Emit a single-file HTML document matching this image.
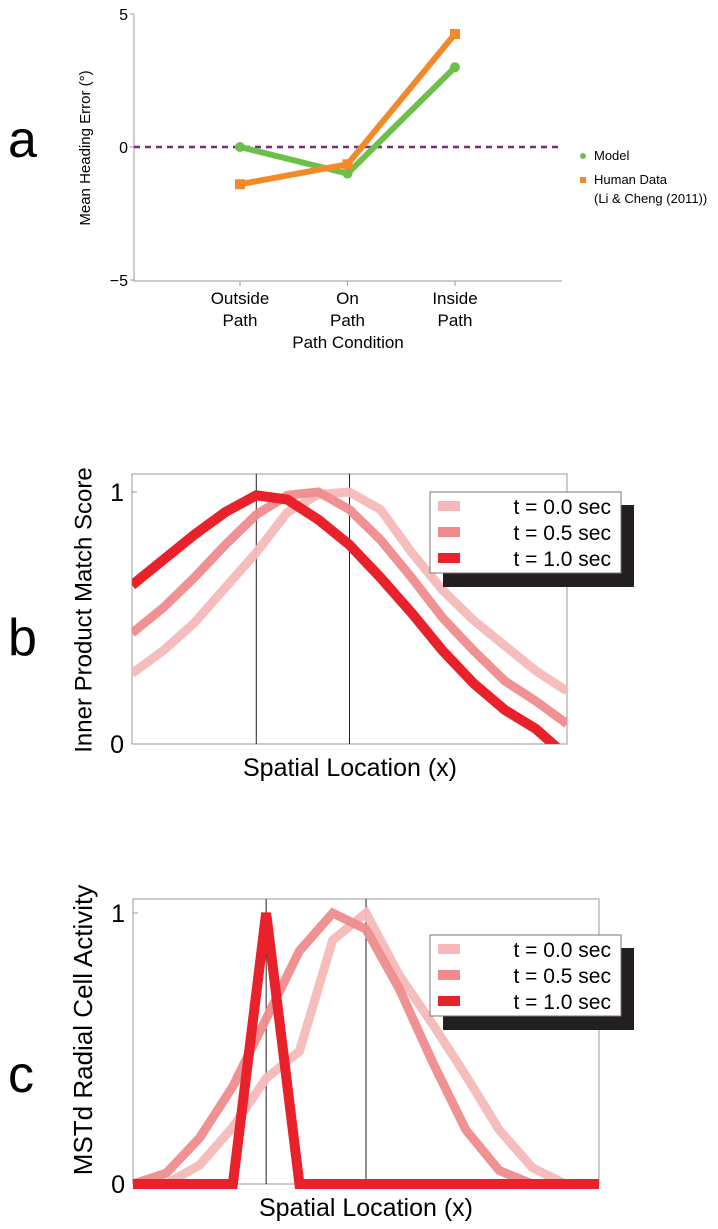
<!DOCTYPE html>
<html><head><meta charset="utf-8"><style>
html,body{margin:0;padding:0;background:#fff;}
svg{display:block;font-family:"Liberation Sans",sans-serif;}
</style></head><body>
<svg id="fig" width="718" height="1229" viewBox="0 0 718 1229">
<defs>
<clipPath id="clipB"><rect x="132" y="474" width="435" height="270"/></clipPath>
</defs>
<!-- Panel a -->
<g id="pa">
<text x="8" y="157" font-size="52">a</text>
<line x1="134" y1="15" x2="134" y2="281" stroke="#999" stroke-width="1"/>
<line x1="134" y1="281" x2="562" y2="281" stroke="#999" stroke-width="1"/>
<text x="90" y="148" font-size="15" text-anchor="middle" transform="rotate(-90 90 148)">Mean Heading Error (°)</text>
<text x="348" y="348" font-size="17" text-anchor="middle">Path Condition</text>
<circle cx="583" cy="156" r="3" fill="#6cc04a"/>
<text x="594" y="160" font-size="13">Model</text>
<rect x="580" y="177" width="6" height="6" fill="#f28a2a"/>
<text x="594" y="184" font-size="13">Human Data</text>
<text x="594" y="203" font-size="13">(Li &amp; Cheng (2011))</text>
</g>
<!-- Panel b -->
<g id="pb">
<text x="8" y="655" font-size="52">b</text>
<rect x="132" y="474" width="435" height="270" fill="none" stroke="#999" stroke-width="1"/>
<text x="85" y="610" font-size="24" text-anchor="middle" transform="rotate(-90 85 610)" dominant-baseline="middle">Inner Product Match Score</text>
<text x="350" y="776" font-size="25" text-anchor="middle">Spatial Location (x)</text>
</g>
<!-- Panel c -->
<g id="pc">
<text x="8" y="1092" font-size="52">c</text>
<rect x="133" y="899" width="466" height="285" fill="none" stroke="#999" stroke-width="1"/>
<text x="85" y="1030" font-size="26" text-anchor="middle" transform="rotate(-90 85 1030)" dominant-baseline="middle">MSTd Radial Cell Activity</text>
<text x="366" y="1216" font-size="25" text-anchor="middle">Spatial Location (x)</text>
</g>
</svg>
<script>
// ---- Panel a data ----
const catsA = ["Outside|Path", "On|Path", "Inside|Path"];
const modelA = [0, -1.0, 3.0];
const humanA = [-1.4, -0.65, 4.25];
const yTicksA = [5, 0, -5];
// ---- Panel b data ----
const legendLabels = ["t = 0.0 sec", "t = 0.5 sec", "t = 1.0 sec"];
const bT00 = [0.28,0.37,0.48,0.62,0.76,0.92,0.99,1.0,0.93,0.76,0.61,0.49,0.39,0.29,0.21];
const bT05 = [0.44,0.54,0.66,0.79,0.91,0.987,1.0,0.93,0.81,0.66,0.50,0.37,0.25,0.17,0.08];
const bT10 = [0.63,0.73,0.83,0.92,0.987,0.97,0.89,0.79,0.66,0.52,0.37,0.24,0.135,0.06,-0.05];
const bVlines = [4, 7];
const yTicksBC = [0, 1];
// ---- Panel c data ----
const cT00 = [0,0,0.07,0.21,0.39,0.49,0.90,1.0,0.77,0.59,0.40,0.20,0.06,0,0];
const cT05 = [0,0.04,0.17,0.36,0.61,0.86,1.0,0.94,0.72,0.45,0.20,0.05,0,0,0];
const cT10 = [0,0,0,0,1,0,0,0,0,0,0,0,0,0,0];
const cVlines = [4, 7];

const NS = "http://www.w3.org/2000/svg";
const svg = document.getElementById("fig");
function mk(tag, attrs, parent) {
  const e = document.createElementNS(NS, tag);
  for (const k in attrs) e.setAttribute(k, attrs[k]);
  (parent || svg).appendChild(e);
  return e;
}
const colors = ["#f6b9b9", "#ef8b8d", "#e8212a"];
const widths = [9, 9, 10];

// Panel a
const pa = document.getElementById("pa");
const xA = i => 240 + i * 107.5;
const yA = v => 147 - v * 26.6;
const zl = mk("line", {x1:134, y1:yA(0), x2:562, y2:yA(0), stroke:"#7a2a7c", "stroke-width":2.5, "stroke-dasharray":"6,5"}, pa);


yTicksA.forEach(t => {
  const l = mk("line", {x1:130, y1:yA(t), x2:134, y2:yA(t), stroke:"#999"}, pa);
  
  
  const tx = mk("text", {x:128, y:yA(t)+6, "font-size":16, "text-anchor":"end"}, pa);
  tx.textContent = t < 0 ? "\u2212" + Math.abs(t) : String(t);
  
  
});
catsA.forEach((c, i) => {
  const l = mk("line", {x1:xA(i), y1:281, x2:xA(i), y2:286, stroke:"#999"}, pa);
  
  
  c.split("|").forEach((w, j) => {
    const tx = mk("text", {x:xA(i), y:304 + j*22, "font-size":17, "text-anchor":"middle"}, pa);
    tx.textContent = w;
    
    
  });
});
const ptsA = arr => arr.map((v,i)=>xA(i)+","+yA(v)).join(" ");
const lm = mk("polyline", {points:ptsA(modelA), fill:"none", stroke:"#6cc04a", "stroke-width":6, "stroke-linejoin":"round"}, pa);


modelA.forEach((v,i)=>{ const c = mk("circle",{cx:xA(i), cy:yA(v), r:5, fill:"#6cc04a"}, pa);   });
const lh = mk("polyline", {points:ptsA(humanA), fill:"none", stroke:"#f28a2a", "stroke-width":6, "stroke-linejoin":"round"}, pa);


humanA.forEach((v,i)=>{ const r = mk("rect",{x:xA(i)-5, y:yA(v)-5, width:10, height:10, fill:"#f28a2a"}, pa);   });

// Generic line panels
function drawPanel(g, box, series, vlines, legY, clip, prefix) {
  const n = 15;
  const x = i => box.l + i * (box.r - box.l) / (n - 1);
  const y = v => box.y0 - v * (box.y0 - box.y1);
  yTicksBC.forEach(t => {
    const l = mk("line", {x1:box.l, y1:y(t), x2:box.l+5, y2:y(t), stroke:"#999"}, g);
    
    
    const tx = mk("text", {x:box.l-8, y:y(t)+9, "font-size":25, "text-anchor":"end"}, g);
    tx.textContent = String(t);
    
    
  });
  vlines.forEach(i => {
    const l = mk("line", {x1:x(i), y1:box.top, x2:x(i), y2:box.y0, stroke:"#222", "stroke-width":1}, g);
    
    
  });
  const sg = mk("g", clip ? {"clip-path":"url(#"+clip+")"} : {}, g);
  series.forEach((arr, k) => {
    const p = mk("polyline", {points: arr.map((v,i)=>x(i)+","+y(v)).join(" "), fill:"none", stroke:colors[k], "stroke-width":widths[k], "stroke-linejoin":"miter", "stroke-opacity": k==2?1:0.95}, sg);
    
    
  });
  const shadow = mk("rect", {x:443, y:legY+13, width:191, height:82, fill:"#231f20"}, g);
  
  
  const lb = mk("rect", {x:430, y:legY, width:191, height:81, fill:"#fff", stroke:"#777", "stroke-width":1}, g);
  
  
  legendLabels.forEach((t, k) => {
    const ry = legY + 14 + k * 26;
    const sw = mk("rect", {x:438, y:ry-5, width:22, height:10, fill:colors[k]}, g);
    
    
    const tx = mk("text", {x:611, y:ry+8, "font-size":21, "text-anchor":"end"}, g);
    tx.textContent = t;
    
    
  });
}
drawPanel(document.getElementById("pb"), {l:132, r:567, top:474, y0:744, y1:492}, [bT00, bT05, bT10], bVlines, 492, "clipB", "b");
drawPanel(document.getElementById("pc"), {l:133, r:599, top:899, y0:1184, y1:913}, [cT00, cT05, cT10], cVlines, 935, null, "c");
</script>
</body></html>
